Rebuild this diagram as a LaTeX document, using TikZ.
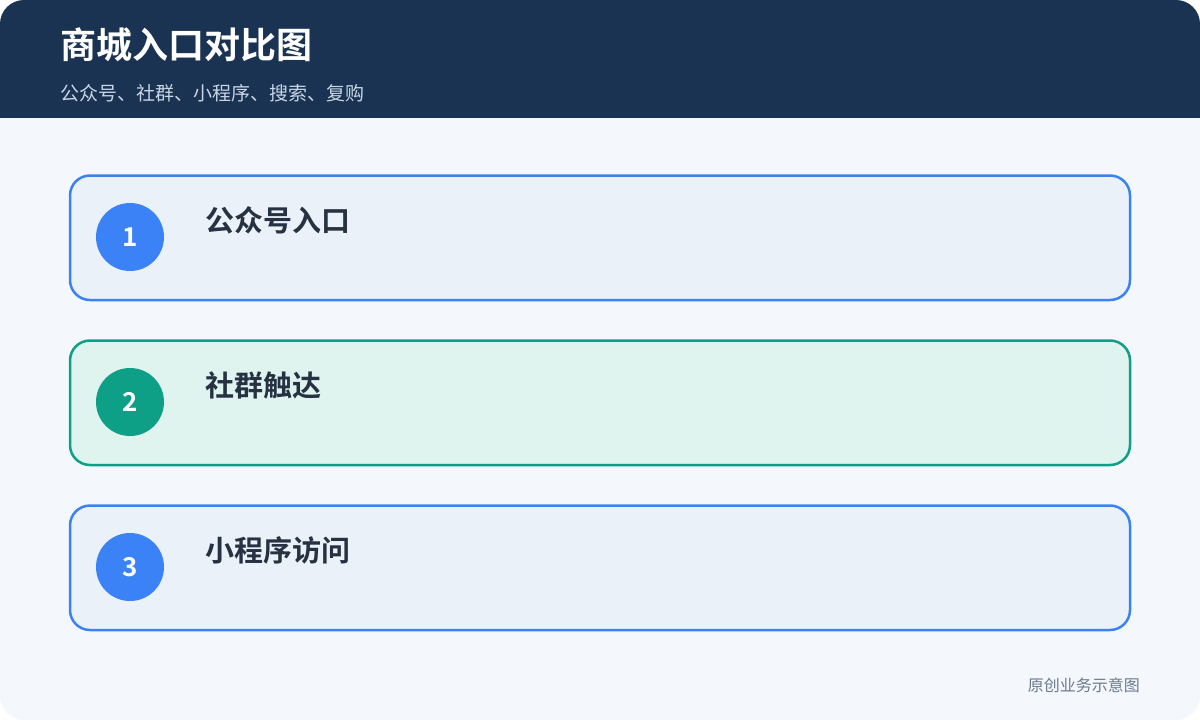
\documentclass[tikz,border=0pt]{standalone}
\usepackage{fontspec}
\setmainfont{Noto Sans}
\newfontfamily\cjk{Noto Sans CJK SC}
\newfontfamily\cjkb{Noto Sans CJK SC Bold}
\definecolor{navy}{HTML}{1A3352}
\definecolor{pagebg}{HTML}{F4F8FC}
\definecolor{bblue}{HTML}{3B82F6}
\definecolor{fblue}{HTML}{EAF1F8}
\definecolor{bgreen}{HTML}{0E9F87}
\definecolor{fgreen}{HTML}{DFF3EF}
\definecolor{subtxt}{HTML}{C9D6E6}
\definecolor{darktxt}{HTML}{263142}
\definecolor{foottxt}{HTML}{6B7A8F}
\tikzset{
  card/.style={draw=#1, line width=2.5pt, rounded corners=20pt},
  numdot/.style={circle, fill=#1, minimum size=68pt, inner sep=0pt, text=white, font=\cjkb\fontsize{26}{28}\selectfont},
  cardtitle/.style={anchor=west, text=darktxt, inner sep=0pt, font=\cjkb\fontsize{29}{32}\selectfont},
}
\begin{document}
\begin{tikzpicture}[x=1pt,y=-1pt]
\useasboundingbox (0,0) rectangle (1200,720);
\fill[white] (0,0) rectangle (1200,720);
\begin{scope}
\clip[rounded corners=24pt] (0,0) rectangle (1200,720);
\fill[pagebg] (0,0) rectangle (1200,720);
\fill[navy] (0,0) rectangle (1200,118);
\end{scope}
\node[anchor=west, text=white, inner sep=0pt, font=\cjkb\fontsize{36}{40}\selectfont] (title) at (60,45) {商城入口对比图};
\node[anchor=west, text=subtxt, inner sep=0pt, font=\cjk\fontsize{19}{22}\selectfont] (sub) at (60,93) {公众号、社群、小程序、搜索、复购};
% card 1
\draw[card=bblue, fill=fblue] (70,175.5) rectangle (1130,300);
\node[numdot=bblue] (n1) at (130,237) {1};
\node[cardtitle] (t1) at (205,220) {公众号入口};
% card 2
\draw[card=bgreen, fill=fgreen] (70,340.5) rectangle (1130,465);
\node[numdot=bgreen] (n2) at (130,402) {2};
\node[cardtitle] (t2) at (205,385) {社群触达};
% card 3
\draw[card=bblue, fill=fblue] (70,505.5) rectangle (1130,630);
\node[numdot=bblue] (n3) at (130,567) {3};
\node[cardtitle] (t3) at (205,550) {小程序访问};
\node[anchor=east, text=foottxt, inner sep=0pt, font=\cjk\fontsize{16}{18}\selectfont] (foot) at (1140,685) {原创业务示意图};
\end{tikzpicture}
\end{document}
